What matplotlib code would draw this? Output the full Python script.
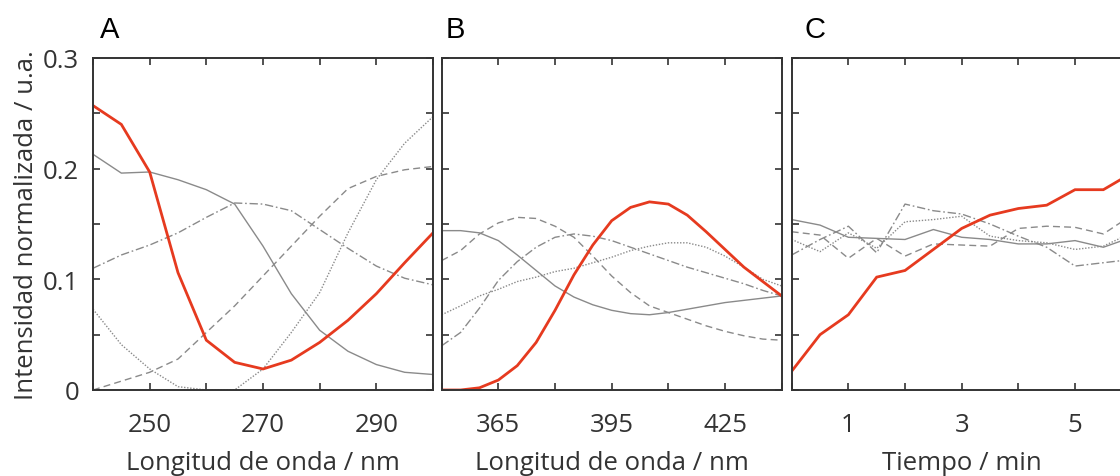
import numpy as np
import matplotlib
matplotlib.use('Agg')
import matplotlib.pyplot as plt

# panel A: wavelength 240-300 nm
wl_a = [240, 245, 250, 255, 260, 265, 270, 275, 280, 285, 290, 295, 300]
red_a = [0.257, 0.240, 0.197, 0.106, 0.045, 0.025, 0.019, 0.027, 0.043, 0.063, 0.087, 0.115, 0.142]
solid_a = [0.213, 0.196, 0.197, 0.190, 0.181, 0.168, 0.130, 0.087, 0.054, 0.035, 0.023, 0.016, 0.014]
dashdot_a = [0.110, 0.122, 0.131, 0.142, 0.156, 0.169, 0.168, 0.162, 0.145, 0.128, 0.112, 0.101, 0.095]
dashed_a = [0.000, 0.008, 0.016, 0.028, 0.052, 0.076, 0.103, 0.130, 0.157, 0.182, 0.193, 0.199, 0.202]
dotted_a = [0.073, 0.041, 0.019, 0.003, 0.000, 0.000, 0.019, 0.052, 0.088, 0.142, 0.190, 0.223, 0.247]

# panel B: wavelength 350-440 nm
wl_b = [350, 355, 360, 365, 370, 375, 380, 385, 390, 395, 400, 405, 410, 415, 420, 425, 430, 435, 440]
red_b = [0.000, 0.000, 0.002, 0.009, 0.022, 0.043, 0.072, 0.104, 0.131, 0.153, 0.165, 0.170, 0.168,
         0.158, 0.143, 0.127, 0.111, 0.098, 0.085]
solid_b = [0.144, 0.144, 0.142, 0.135, 0.122, 0.108, 0.094, 0.084, 0.077, 0.072, 0.069, 0.068, 0.070,
           0.073, 0.076, 0.079, 0.081, 0.083, 0.085]
dashed_b = [0.117, 0.126, 0.141, 0.151, 0.156, 0.155, 0.148, 0.138, 0.121, 0.103, 0.088, 0.076, 0.070,
            0.064, 0.058, 0.053, 0.049, 0.046, 0.045]
dashdot_b = [0.040, 0.052, 0.074, 0.099, 0.116, 0.129, 0.138, 0.141, 0.139, 0.135, 0.129, 0.123, 0.117,
             0.111, 0.106, 0.101, 0.096, 0.090, 0.085]
dotted_b = [0.068, 0.076, 0.085, 0.091, 0.098, 0.102, 0.107, 0.110, 0.115, 0.120, 0.126, 0.130, 0.133,
            0.133, 0.129, 0.121, 0.111, 0.100, 0.094]

# panel C: time 0-6 min
t_c = [0, 0.5, 1, 1.5, 2, 2.5, 3, 3.5, 4, 4.5, 5, 5.5, 6]
red_c = [0.017, 0.050, 0.068, 0.102, 0.108, 0.127, 0.146, 0.158, 0.164, 0.167, 0.181, 0.181, 0.196]
solid_c = [0.154, 0.149, 0.138, 0.137, 0.136, 0.145, 0.138, 0.136, 0.132, 0.132, 0.135, 0.129, 0.138]
dashed_c = [0.143, 0.140, 0.119, 0.137, 0.121, 0.132, 0.131, 0.130, 0.146, 0.148, 0.147, 0.141, 0.158]
dashdot_c = [0.122, 0.136, 0.148, 0.124, 0.168, 0.162, 0.159, 0.150, 0.139, 0.129, 0.112, 0.115, 0.118]
dotted_c = [0.136, 0.125, 0.142, 0.128, 0.152, 0.154, 0.157, 0.139, 0.135, 0.133, 0.127, 0.130, 0.142]

RED = '#e63a1f'
GRAY = '#8a8a8a'
DARK = '#333333'
label_font = ['Open Sans', 'DejaVu Sans']
FS = 18.5

styles = {
    'solid': '-',
    'dashed': (0, (5, 3)),
    'dashdot': (0, (6, 2, 1.2, 2)),
    'dotted': (0, (1, 1.2)),
}


def draw_panel(ax, x, solid, dashed, dashdot, dotted, red):
    ax.plot(x, solid, color=GRAY, lw=1.0, linestyle=styles['solid'])
    ax.plot(x, dashed, color=GRAY, lw=1.0, linestyle=styles['dashed'])
    ax.plot(x, dashdot, color=GRAY, lw=1.0, linestyle=styles['dashdot'])
    ax.plot(x, dotted, color=GRAY, lw=1.0, linestyle=styles['dotted'])
    ax.plot(x, red, color=RED, lw=2.0, solid_joinstyle='miter')
    ax.set_ylim(0, 0.3)
    ax.set_yticks([0, 0.1, 0.2, 0.3])
    ax.set_yticks([0.05, 0.15, 0.25], minor=True)
    for s in ax.spines.values():
        s.set_color(DARK)
        s.set_linewidth(1.4)
    ax.tick_params(which='both', direction='in', top=True, right=True,
                   length=5, width=1.2, color=DARK, labelcolor=DARK,
                   labelsize=FS)
    ax.tick_params(axis='x', which='major', pad=16)
    ax.tick_params(axis='y', which='major', pad=10)


fig = plt.figure(figsize=(11.2, 4.77), dpi=100)
W, H = 1120, 477
bottom = (H - 391) / H
height = 332 / H
width = 340 / W

ax_a = fig.add_axes([93 / W, bottom, width, height])
ax_b = fig.add_axes([441.7 / W, bottom, width, height])
ax_c = fig.add_axes([791.7 / W, bottom, width, height])

draw_panel(ax_a, wl_a, solid_a, dashed_a, dashdot_a, dotted_a, red_a)
ax_a.set_xlim(240, 300)
ax_a.set_xticks([250, 270, 290])
ax_a.set_xticks([240, 260, 280, 300], minor=True)
ax_a.set_yticklabels(['0', '0.1', '0.2', '0.3'])
ax_a.set_ylabel('Intensidad normalizada / u.a.', fontsize=FS, color=DARK,
                family=label_font, labelpad=3)

draw_panel(ax_b, wl_b, solid_b, dashed_b, dashdot_b, dotted_b, red_b)
ax_b.set_xlim(350, 440)
ax_b.set_xticks([365, 395, 425])
ax_b.set_xticks([350, 380, 410, 440], minor=True)
ax_b.set_yticklabels([])

draw_panel(ax_c, t_c, solid_c, dashed_c, dashdot_c, dotted_c, red_c)
ax_c.set_xlim(0, 6)
ax_c.set_xticks([1, 3, 5])
ax_c.set_xticks([0, 2, 4, 6], minor=True)
ax_c.set_yticklabels([])

for ax, lab in [(ax_a, 'Longitud de onda / nm'), (ax_b, 'Longitud de onda / nm'),
                (ax_c, 'Tiempo / min')]:
    ax.set_xlabel(lab, fontsize=FS, color=DARK, family=label_font, labelpad=9)
    for t in ax.get_xticklabels() + ax.get_yticklabels():
        t.set_family(label_font)

for xpos, letter in [(100, 'A'), (446, 'B'), (804, 'C')]:
    fig.text(xpos / W, (H - 38) / H, letter, fontsize=21, color='black',
             family=['Liberation Sans', 'DejaVu Sans'], va='baseline', ha='left')

fig.savefig('out.png', dpi=100)
